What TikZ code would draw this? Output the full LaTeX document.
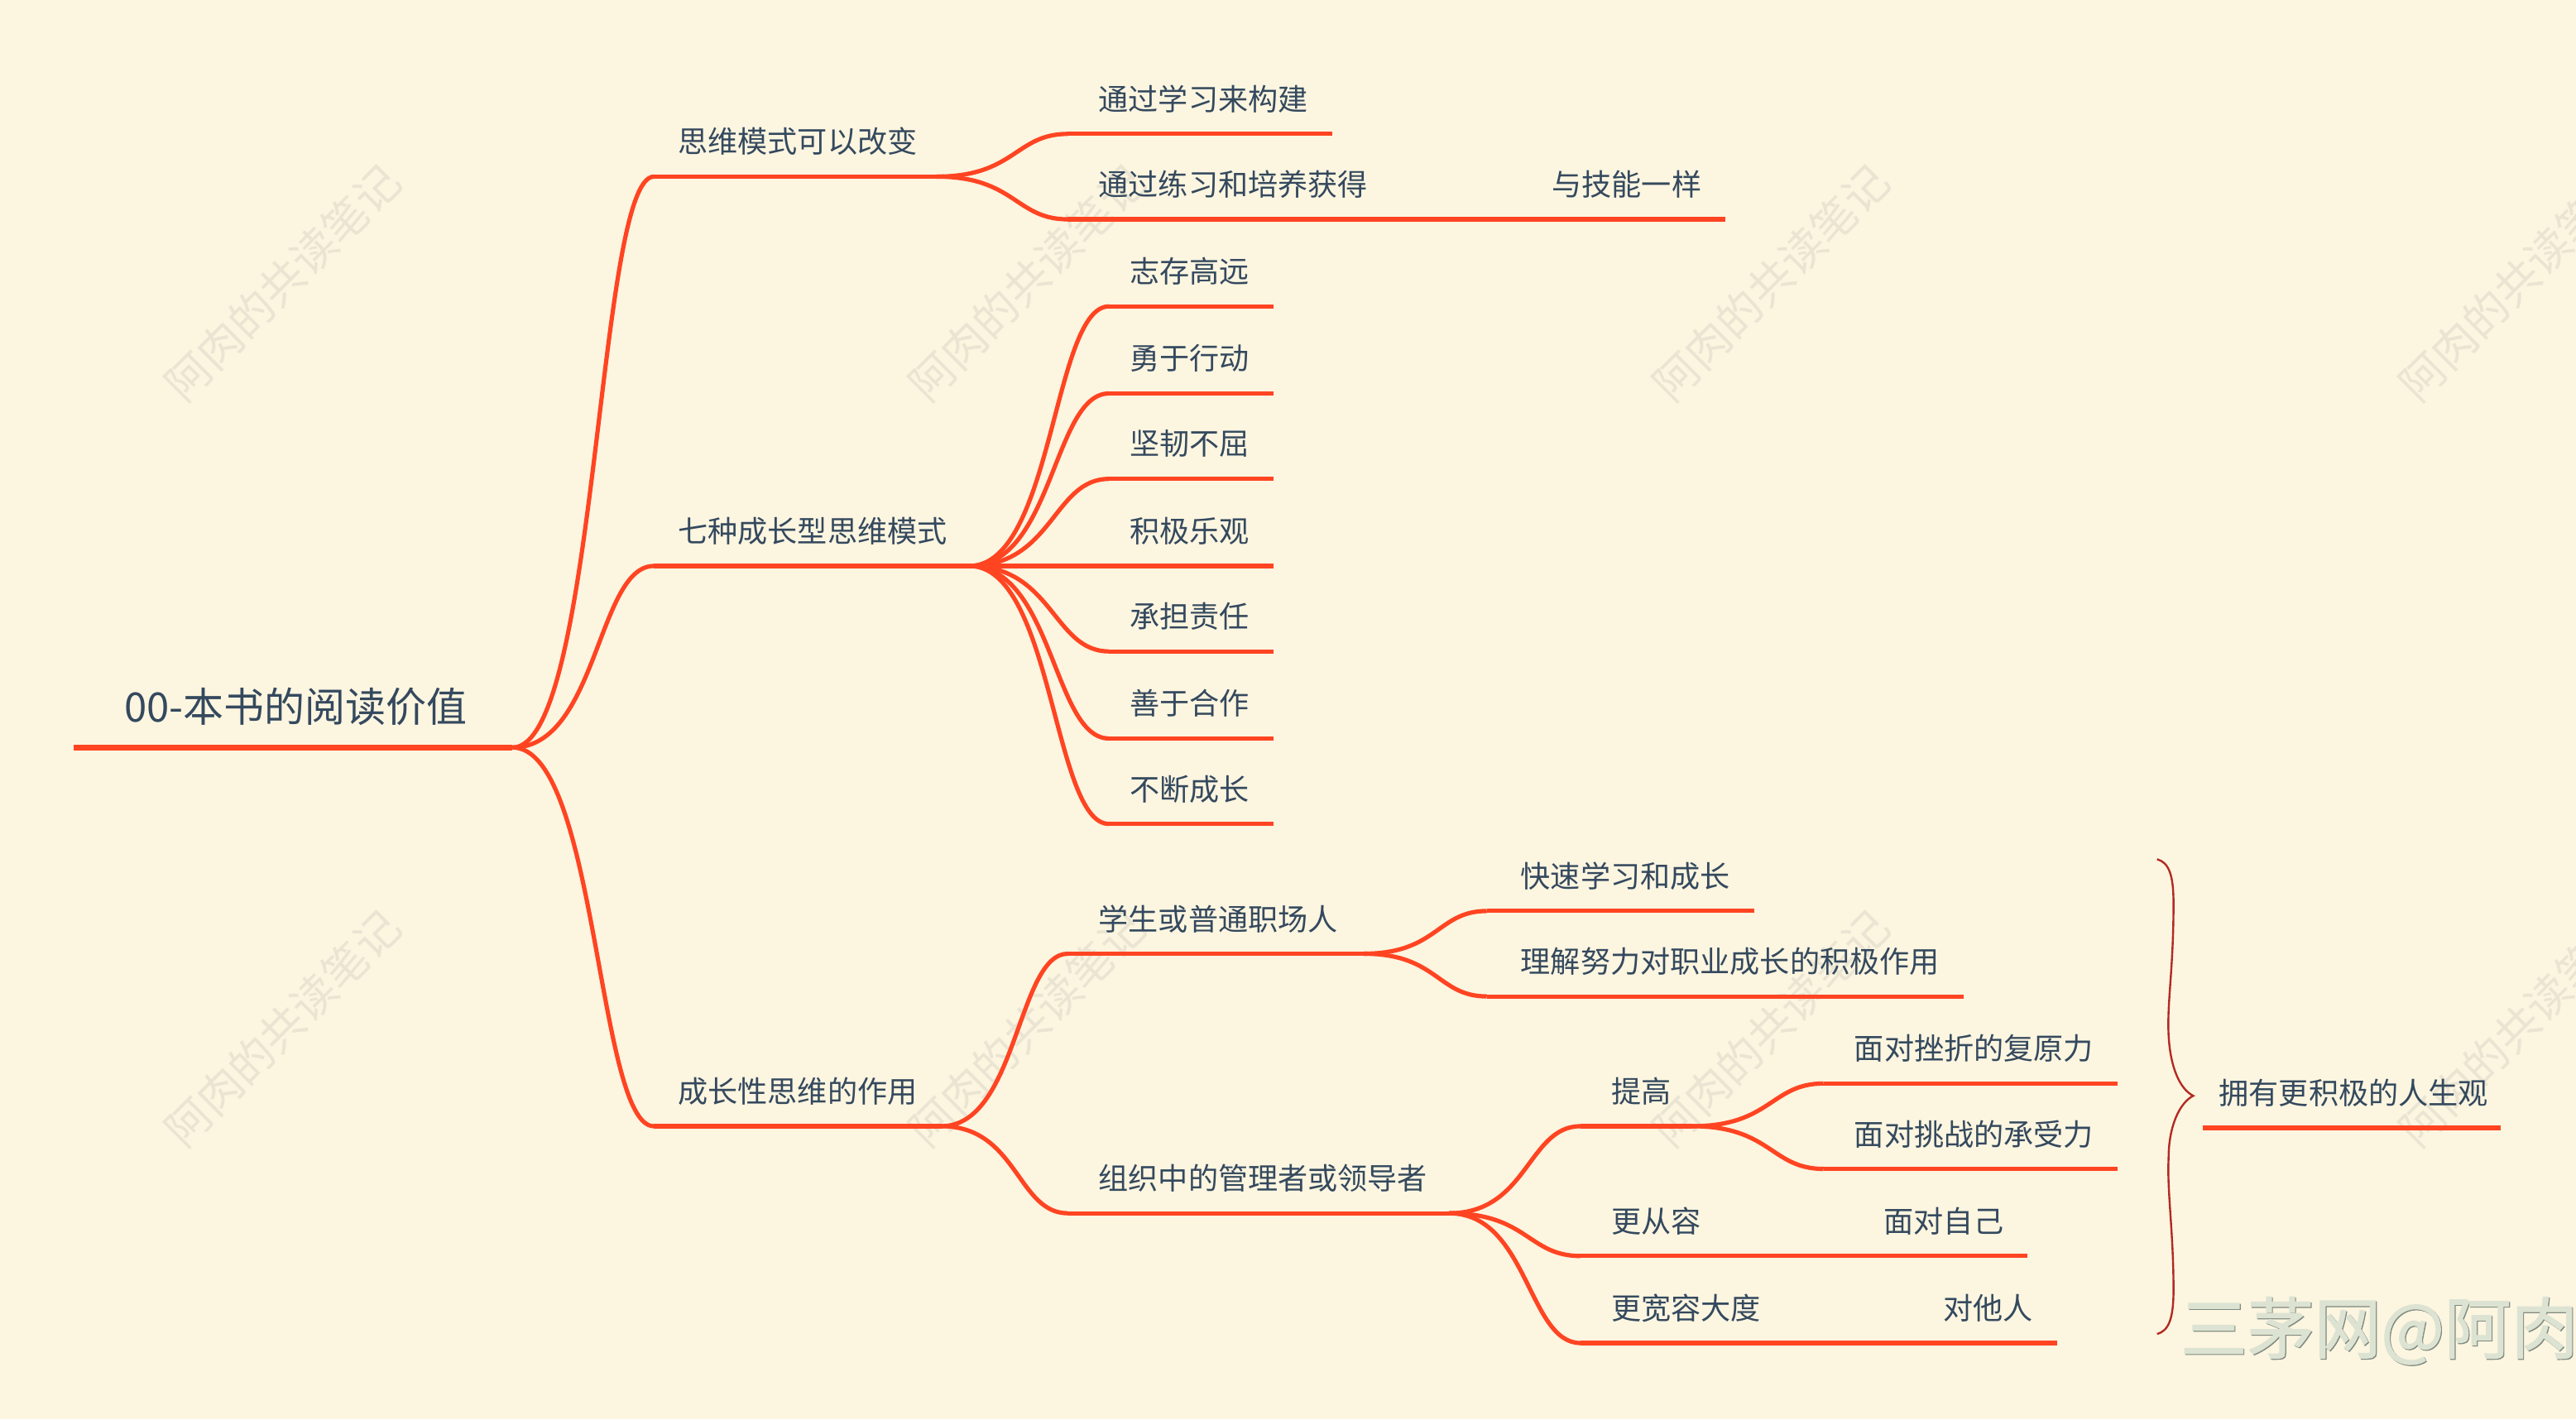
\documentclass[tikz,border=0pt]{standalone}
\usepackage{fontspec}
\setmainfont{Noto Sans CJK SC}
\newfontfamily\stampfont[FakeBold=1.5]{Noto Sans CJK SC}
\usetikzlibrary{calc}
\definecolor{paper}{HTML}{FCF5E0}
\definecolor{ink}{HTML}{34495E}
\definecolor{branchred}{HTML}{FF4422}
\definecolor{bracered}{HTML}{B22A22}
\definecolor{markgray}{HTML}{EAE5D3}
\definecolor{stampgreen}{HTML}{DDE3D2}
\definecolor{stampedge}{HTML}{7F8A80}
\tikzset{
 topic/.style={anchor=west,inner sep=0pt,text=ink,font=\fontsize{18.2}{20}\selectfont},
 roottopic/.style={anchor=center,inner sep=0pt,text=ink,font=\fontsize{24.7}{26}\selectfont},
 branch/.style={draw=branchred,line width=2.6pt},
 curve/.style={draw=branchred,line width=2.6pt},
 rootline/.style={draw=branchred,line width=3.2pt},
 watermark/.style={inner sep=0pt,text=markgray,rotate=45,font=\fontsize{27}{29}\selectfont},
 stamp/.style={anchor=west,inner sep=0pt,font=\stampfont\fontsize{40.7}{44}\selectfont}
}
\begin{document}
\begin{tikzpicture}[x=1pt,y=-1pt]
 	\useasboundingbox[fill=paper] (0,0) rectangle (1568,864);
 	\foreach \wx/\wy/\wn in {172/172/wa,625/172/wb,1078/172/wc,1532/172/wd,
 		172/626/we,625/626/wf,1078/626/wg,1532/626/wh}{%
 	\node[watermark] (\wn) at (\wx,\wy) {阿肉的共读笔记};
 	}%
 	% root
 	\coordinate (root-l) at (45,455);
 	\coordinate (root-r) at (312,455);
 	\draw[rootline] (root-l)--(root-r);
 	\node[roottopic] (root) at (180,430) {00-本书的阅读价值};
 	% name/line start/line end/line y/text x/text
 	\foreach \n/\xa/\xb/\y/\xt/\t in {%
 		think/398/570/107/413/思维模式可以改变,
 		learn/650/811/81/669/通过学习来构建,
 		practice/650/847/133/669/通过练习和培养获得,
 		skill/847/1050/133/945/与技能一样,
 		seven/398/590/344/413/七种成长型思维模式,
 		aim/675/775/186/688/志存高远,
 		brave/675/775/239/688/勇于行动,
 		tough/675/775/291/688/坚韧不屈,
 		happy/675/775/344/688/积极乐观,
 		duty/675/775/396/688/承担责任,
 		team/675/775/449/688/善于合作,
 		grow/675/775/501/688/不断成长,
 		effect/398/573/685/413/成长性思维的作用,
 		student/650/830/580/669/学生或普通职场人,
 		fast/905/1068/554/926/快速学习和成长,
 		effort/905/1195/606/926/理解努力对职业成长的积极作用,
 		manager/650/882/738/669/组织中的管理者或领导者,
 		raise/962/1030/685/981/提高,
 		setback/1110/1289/659/1129/面对挫折的复原力,
 		stress/1110/1289/711/1129/面对挑战的承受力,
 		calm/962/1050/764/981/更从容,
 		self/1050/1234/764/1147/面对自己,
 		broad/962/1085/817/981/更宽容大度,
 		others/1085/1252/817/1183/对他人,
 		outlook/1341/1522/686/1351/拥有更积极的人生观%
 	}{%
 	\coordinate (\n-l) at (\xa,\y+.5);
 	\coordinate (\n-r) at (\xb,\y+.5);
 	\draw[branch] (\n-l)--(\n-r);
 	\node[topic] (\n) at (\xt-.5,\y-20.8) {\t};
 	}%
 	% connectors
 	\foreach \a/\b in {%
 		root/think,root/seven,root/effect,
 		think/learn,think/practice,practice/skill,
 		seven/aim,seven/brave,seven/tough,seven/happy,seven/duty,seven/team,seven/grow,
 		effect/student,effect/manager,student/fast,student/effort,
 		manager/raise,manager/calm,manager/broad,
 		raise/setback,raise/stress,calm/self,broad/others%
 	}{%
 	\coordinate (mid) at ($(\a-r)!.6!(\b-l)$);
 	\draw[curve] (\a-r) .. controls (mid |- \a-r) and (mid |- \b-l) .. (\b-l);
 	}%
 	% brace
 	\coordinate (tip) at (1335,667);
 	\draw[bracered,line width=1.2pt] (1313,523) .. controls (1320,525) and (1323,532) .. (1323,550)
 		.. controls (1323,590) and (1319,610) .. (1320,630) .. controls (1321,650) and (1327,663) .. (tip)
 		.. controls (1327,671) and (1320,685) .. (1320,705) .. controls (1319,725) and (1323,750) .. (1323,785)
 		.. controls (1323,803) and (1320,810) .. (1313,812);
 	% stamp
 	\node[stamp,text=stampedge] (stampb) at (1327.6,810.6) {三茅网@阿肉};
 	\node[stamp,text=stampgreen] (stamp) at (1327,810) {三茅网@阿肉};
\end{tikzpicture}
\end{document}
